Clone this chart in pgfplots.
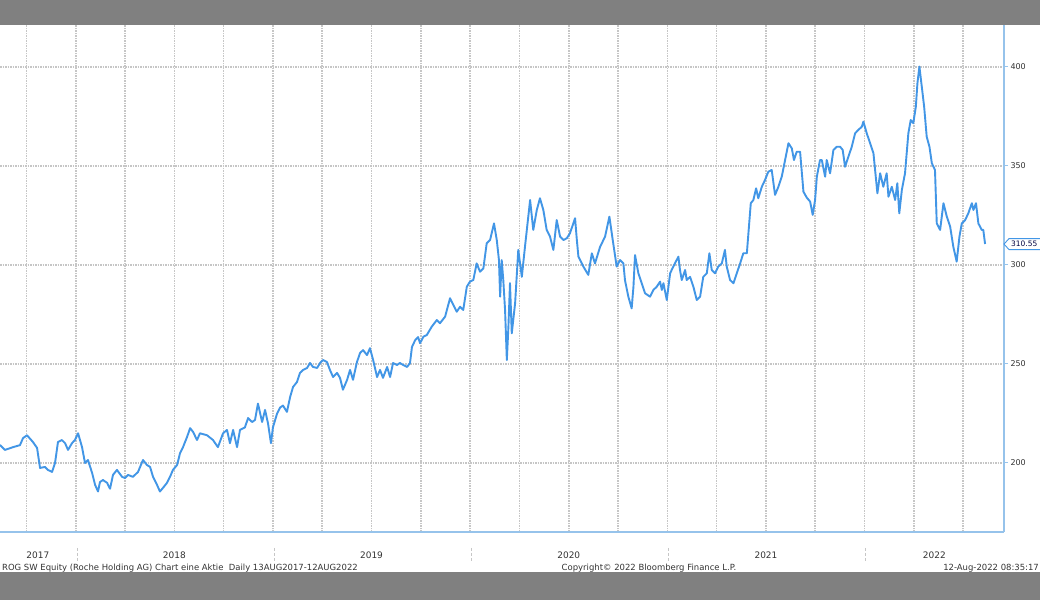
\documentclass[border=0pt]{standalone}
\usepackage{pgfplots}
\pgfplotsset{compat=1.18}
\usepackage{fontspec}
\setmainfont{DejaVu Sans}
\definecolor{bbline}{RGB}{66,150,230}
\definecolor{bbaxis}{RGB}{150,195,235}
\definecolor{bbgray}{RGB}{128,128,128}
\definecolor{bbgrid}{RGB}{198,198,198}

\begin{document}
\begin{tikzpicture}
\fill[bbgray] (0bp,0bp) rectangle (1040bp,600bp);
\fill[white] (0bp,28bp) rectangle (1040bp,575bp);
\useasboundingbox (0bp,0bp) rectangle (1040bp,600bp);

\begin{axis}[
    at={(0bp,68bp)}, anchor=south west,
    scale only axis, width=1004bp, height=507bp,
    xmin=2017.616, xmax=2022.707,
    ymin=165.15, ymax=421.2,
    axis x line*=bottom, axis y line*=right,
    axis line style={bbaxis, line width=1.3bp, -},
    ytick={200,250,300,350,400},
    y tick style={bbaxis, line width=1bp},
    tick align=outside, major tick length=4bp, minor tick length=0pt,
    yticklabel style={font=\fontsize{8}{9}\selectfont, text=black!80, xshift=-1bp},
    xtick={2017.808,2018.5,2019.5,2020.5,2021.5,2022.354},
    xticklabels={2017,2018,2019,2020,2021,2022},
    x tick style={draw=none},
    xticklabel style={font=\fontsize{9}{10}\selectfont, text=black!80, yshift=-12bp},
    minor xtick={2017.75,2018,2018.25,2018.5,2018.75,2019,2019.25,2019.5,2019.75,2020,2020.25,2020.5,2020.75,2021,2021.25,2021.5,2021.75,2022,2022.25,2022.5},
    ymajorgrids, xminorgrids,
    grid style={bbgrid, line width=1.6bp, dash pattern=on 1.5bp off 1bp},
    minor grid style={bbgrid, line width=1.6bp, dash pattern=on 1.5bp off 1bp},
    /pgf/number format/assume math mode=true,
    /pgf/number format/1000 sep={},
    clip=false,
]

% ROG SW Equity, daily close
\addplot[bbline, line width=1.9bp, line join=round] coordinates {
(2017.616,209.1) (2017.641,206.6) (2017.682,208.0) (2017.717,209.0) (2017.733,212.6) (2017.753,214.0) (2017.783,210.6) (2017.804,207.6) (2017.819,197.5) (2017.844,198.0) (2017.859,196.5) (2017.880,195.5) (2017.895,200.0) (2017.910,210.6) (2017.930,211.6) (2017.946,210.0) (2017.961,206.6) (2017.981,210.0) (2017.996,211.6) (2018.012,215.0) (2018.032,208.0) (2018.047,200.0) (2018.062,201.5) (2018.083,195.0) (2018.098,189.0) (2018.113,185.6) (2018.123,190.4) (2018.138,191.4) (2018.159,190.0) (2018.174,187.0) (2018.189,194.0) (2018.209,196.5) (2018.235,193.0) (2018.250,192.4) (2018.265,194.0) (2018.290,193.0) (2018.316,195.5) (2018.341,201.5) (2018.361,199.0) (2018.377,198.0) (2018.392,193.0) (2018.412,189.0) (2018.427,185.6) (2018.443,187.5) (2018.463,190.0) (2018.478,193.0) (2018.493,196.5) (2018.514,199.0) (2018.529,205.0) (2018.544,208.0) (2018.564,213.0) (2018.580,217.6) (2018.595,215.7) (2018.615,211.6)
(2018.630,215.0) (2018.666,214.0) (2018.696,211.6) (2018.721,208.0) (2018.747,215.0) (2018.767,216.7) (2018.782,210.0) (2018.798,216.7) (2018.818,208.0) (2018.833,216.7) (2018.858,218.0) (2018.874,222.7) (2018.894,220.7) (2018.909,221.7) (2018.924,230.0) (2018.945,220.7) (2018.960,226.8) (2018.975,220.0) (2018.990,210.0) (2019.000,218.0) (2019.021,225.0) (2019.036,228.0) (2019.051,229.0) (2019.071,225.8) (2019.087,233.3) (2019.102,238.4) (2019.122,240.9) (2019.137,245.5) (2019.153,247.0) (2019.173,248.0) (2019.188,250.5) (2019.203,248.5) (2019.224,248.0) (2019.239,250.5) (2019.254,252.0) (2019.274,251.0) (2019.289,247.0) (2019.305,243.4) (2019.325,245.5) (2019.340,243.0) (2019.355,237.0) (2019.376,242.0) (2019.391,247.0) (2019.406,242.0) (2019.426,251.0) (2019.442,255.6) (2019.457,257.0) (2019.477,254.5) (2019.492,258.0) (2019.508,252.0) (2019.528,243.4) (2019.543,247.0) (2019.558,243.0) (2019.579,248.5) (2019.594,243.4) (2019.609,250.5) (2019.629,249.5) (2019.644,250.5) (2019.660,249.5) (2019.680,248.5) (2019.695,250.5) (2019.705,258.6) (2019.721,262.0) (2019.736,263.6)
(2019.746,260.5) (2019.763,263.8) (2019.780,264.6) (2019.805,268.8) (2019.831,272.2) (2019.847,270.6) (2019.873,273.9) (2019.898,283.2) (2019.915,279.8) (2019.932,276.4) (2019.949,278.9) (2019.965,277.3) (2019.983,289.0) (2019.999,291.6) (2020.016,292.4) (2020.033,300.8) (2020.050,296.6) (2020.067,298.3) (2020.084,311.0) (2020.101,312.6) (2020.109,316.0) (2020.121,321.0) (2020.135,312.6) (2020.146,302.5) (2020.152,284.0) (2020.160,302.5) (2020.168,292.4) (2020.177,277.3) (2020.186,252.0) (2020.194,268.8) (2020.202,290.8) (2020.211,265.5) (2020.228,280.7) (2020.244,307.6) (2020.262,294.0) (2020.278,309.2) (2020.304,332.8) (2020.320,317.7) (2020.338,327.8) (2020.354,333.7) (2020.371,327.8) (2020.388,317.7) (2020.405,314.3) (2020.422,307.6) (2020.439,322.7) (2020.456,314.3) (2020.473,312.6) (2020.490,313.5) (2020.506,316.0) (2020.532,323.6) (2020.541,312.6) (2020.549,304.2) (2020.574,299.2) (2020.599,295.0) (2020.617,305.9) (2020.633,300.8) (2020.659,309.2) (2020.684,314.3) (2020.706,324.4) (2020.723,312.6) (2020.743,299.2)
(2020.760,302.5) (2020.777,300.8) (2020.785,292.4) (2020.802,284.0) (2020.819,278.1) (2020.828,289.0) (2020.836,305.0) (2020.853,295.8) (2020.870,290.8) (2020.887,285.7) (2020.912,284.0) (2020.929,287.4) (2020.946,289.0) (2020.963,291.6) (2020.972,287.4) (2020.980,290.8) (2020.997,282.3) (2021.014,295.8) (2021.030,299.2) (2021.056,304.2) (2021.064,297.5) (2021.073,292.4) (2021.090,297.5) (2021.098,292.4) (2021.115,294.0) (2021.132,289.0) (2021.149,282.3) (2021.166,284.0) (2021.182,294.0) (2021.200,295.8) (2021.213,305.9) (2021.225,297.5) (2021.242,295.8) (2021.258,299.2) (2021.276,300.8) (2021.292,307.6) (2021.301,299.2) (2021.318,292.4) (2021.335,290.8) (2021.352,295.8) (2021.369,300.8) (2021.385,305.9) (2021.403,305.9) (2021.411,316.0) (2021.423,331.2) (2021.436,332.8) (2021.450,338.7) (2021.461,333.7) (2021.479,339.5) (2021.495,342.9) (2021.512,347.1) (2021.529,348.0) (2021.546,335.4) (2021.563,339.5) (2021.580,344.6) (2021.597,353.0) (2021.614,361.5) (2021.631,358.9) (2021.642,353.0) (2021.656,357.2) (2021.673,357.2) (2021.690,337.0) (2021.707,334.0) (2021.724,332.0) (2021.737,325.3) (2021.749,332.8) (2021.758,344.6) (2021.774,353.0)
(2021.783,353.0) (2021.800,344.6) (2021.808,353.0) (2021.825,346.3) (2021.842,358.1) (2021.859,359.7) (2021.876,359.7) (2021.889,358.1) (2021.901,349.6) (2021.918,354.7) (2021.935,359.7) (2021.952,366.5) (2021.968,368.2) (2021.986,369.8) (2021.994,372.4) (2022.011,366.5) (2022.028,361.5) (2022.045,356.4) (2022.065,336.2) (2022.079,346.3) (2022.095,339.5) (2022.112,346.3) (2022.121,334.5) (2022.138,339.5) (2022.155,332.8) (2022.166,341.3) (2022.176,326.1) (2022.189,337.9) (2022.205,346.3) (2022.222,366.5) (2022.234,373.2) (2022.247,371.6) (2022.260,380.0) (2022.268,391.8) (2022.278,400.2) (2022.290,390.1) (2022.302,380.0) (2022.315,364.8) (2022.329,359.7) (2022.341,351.4) (2022.357,348.0) (2022.366,321.0) (2022.383,317.7) (2022.400,331.2) (2022.417,324.4) (2022.434,319.3) (2022.450,309.2) (2022.467,301.7) (2022.481,314.3) (2022.493,321.0) (2022.510,322.7) (2022.526,326.1) (2022.544,331.2) (2022.552,327.8) (2022.565,331.2) (2022.577,321.0) (2022.594,317.7) (2022.602,317.7) (2022.611,310.6)
};

% last price tag
\draw[bbline, fill=white, line width=0.9bp]
    (axis cs:2022.707,310.55) -- ++(5bp,5.5bp) -- ++(40bp,0bp) -- ++(0bp,-11bp) -- ++(-40bp,0bp) -- cycle;
\node[anchor=west, inner sep=0pt, font=\fontsize{7.5}{8}\selectfont, text=black!75!blue]
    at ([xshift=7bp]axis cs:2022.707,310.55) {310.55};
\end{axis}

% year separators in the label row
\foreach \xx in {77,274.2,471.4,668.6,865.8}
    \draw[bbgrid, line width=1bp, densely dashed] (\xx bp,52bp) -- (\xx bp,38bp);

% footer
\node[anchor=west, inner sep=0pt, font=\fontsize{8.5}{10}\selectfont, text=black!80] at (2bp,32bp)
    {ROG SW Equity (Roche Holding AG) Chart eine Aktie\ \ Daily 13AUG2017-12AUG2022};
\node[anchor=center, inner sep=0pt, font=\fontsize{8.5}{10}\selectfont, text=black!80] at (649bp,32bp)
    {Copyright© 2022 Bloomberg Finance L.P.};
\node[anchor=east, inner sep=0pt, font=\fontsize{8.5}{10}\selectfont, text=black!80] at (1039bp,32bp)
    {12-Aug-2022 08:35:17};
\end{tikzpicture}
\end{document}
